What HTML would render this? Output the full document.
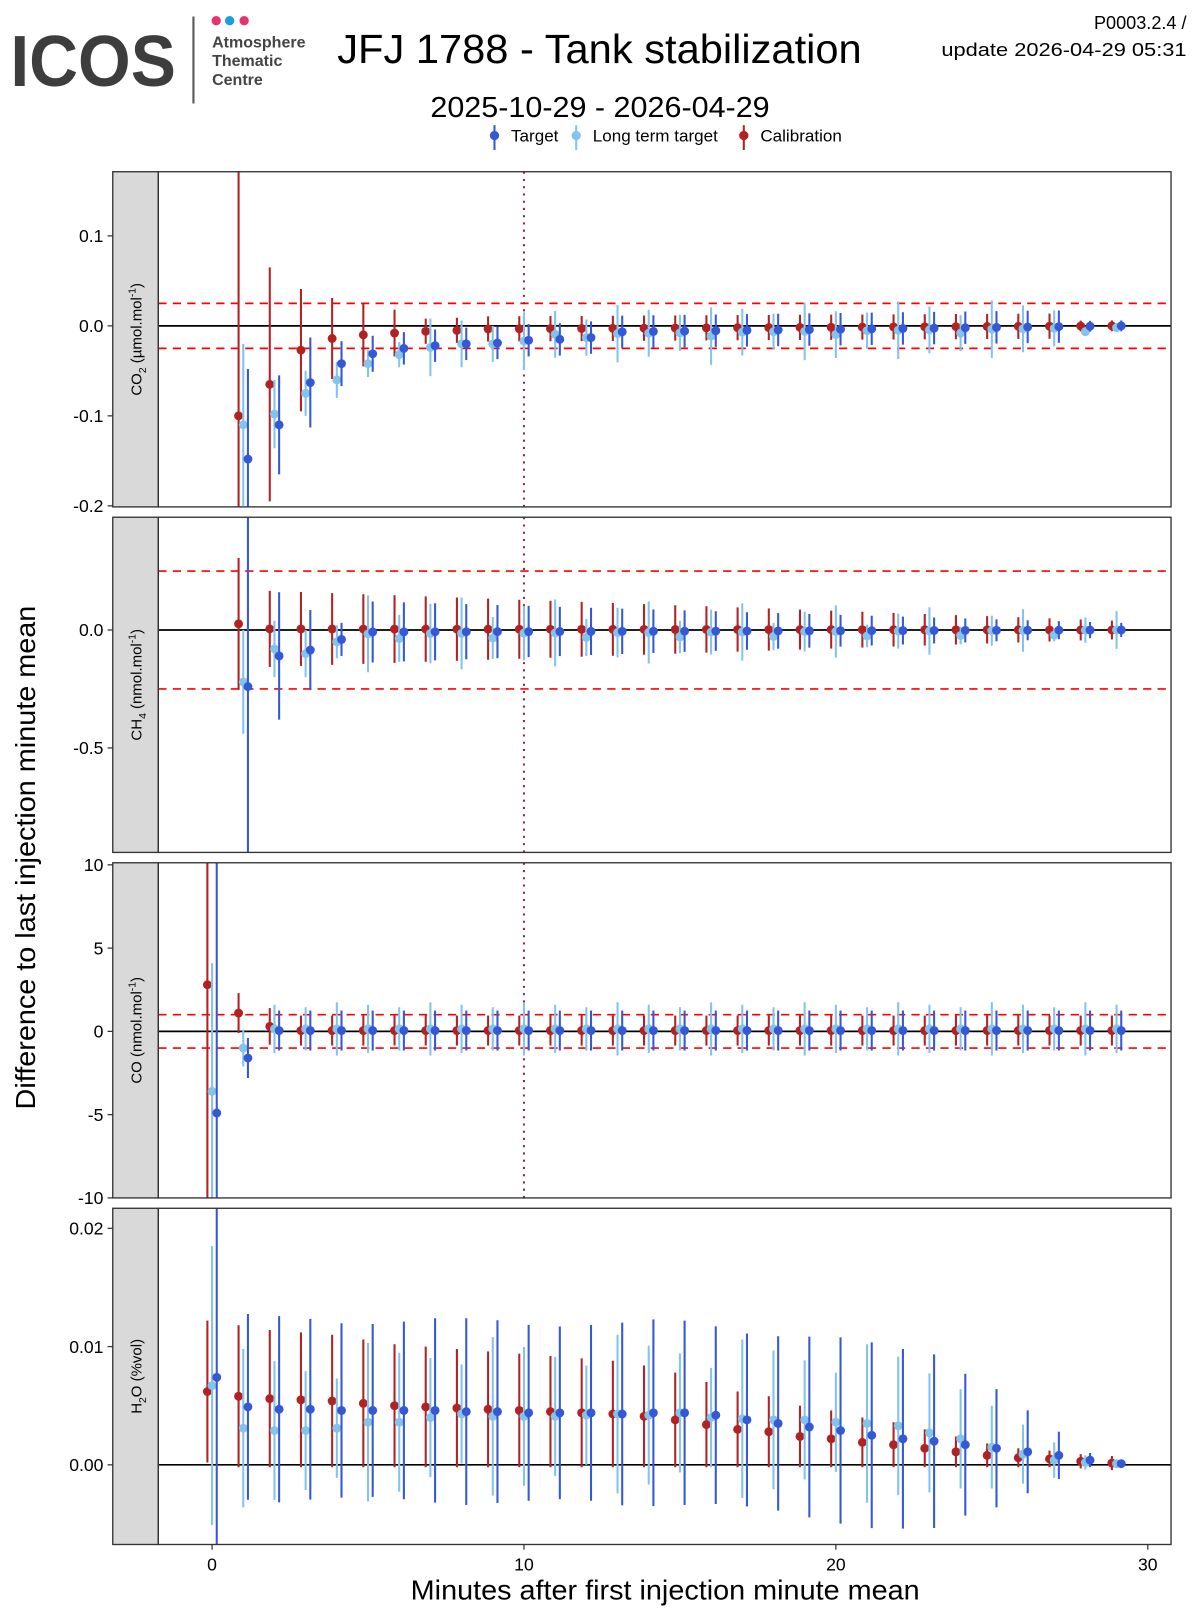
<!DOCTYPE html>
<html><head><meta charset="utf-8"><style>
html,body{margin:0;padding:0;background:#fff}
svg{display:block}
text{font-family:"Liberation Sans",sans-serif}
</style></head><body>
<svg id="s" width="1200" height="1620" viewBox="0 0 1160 1566" preserveAspectRatio="none" xmlns="http://www.w3.org/2000/svg">
<rect width="1160" height="1566" fill="#fff"/>
<text x="10" y="83" font-size="70" font-weight="bold" fill="#3d3d3d" textLength="160" lengthAdjust="spacingAndGlyphs">ICOS</text>
<line x1="187" y1="16" x2="187" y2="100" stroke="#555" stroke-width="2"/>
<circle cx="209" cy="20" r="4.5" fill="#e6336e"/>
<circle cx="222" cy="20" r="4.5" fill="#1a9ee2"/>
<circle cx="236" cy="20" r="4.5" fill="#e6336e"/>
<text x="205" y="46" font-size="15.5" font-weight="bold" fill="#444">Atmosphere</text>
<text x="205" y="64" font-size="15.5" font-weight="bold" fill="#444">Thematic</text>
<text x="205" y="82" font-size="15.5" font-weight="bold" fill="#444">Centre</text>
<text x="326" y="61" font-size="39" fill="#000" textLength="507" lengthAdjust="spacingAndGlyphs">JFJ 1788 - Tank stabilization</text>
<text x="1147" y="28" font-size="17.5" text-anchor="end">P0003.2.4 /</text>
<text x="1147" y="54" font-size="17.5" text-anchor="end" textLength="237" lengthAdjust="spacingAndGlyphs">update  2026-04-29 05:31</text>
<text x="580" y="113" font-size="28" text-anchor="middle" textLength="328" lengthAdjust="spacingAndGlyphs">2025-10-29 - 2026-04-29</text>
<g id="legend"></g>
<g id="plot"></g>
<text x="643" y="1546" font-size="27" text-anchor="middle" textLength="492" lengthAdjust="spacingAndGlyphs">Minutes after first injection minute mean</text>
<text transform="translate(34,829) rotate(-90)" font-size="27" text-anchor="middle" textLength="487" lengthAdjust="spacingAndGlyphs">Difference to last injection minute mean</text>
</svg>
<script>
const NS="http://www.w3.org/2000/svg";
const P=document.getElementById('plot'), L=document.getElementById('legend');
function el(par,tag,a,txt){const e=document.createElementNS(NS,tag);for(const k in a)e.setAttribute(k,a[k]);if(txt!=null)e.textContent=txt;par.appendChild(e);return e;}
const CT="#3558d4", CL="#82c4ec", CC="#b22222";
[[478,CT,"Target"],[557,CL,"Long term target"],[719,CC,"Calibration"]].forEach(([x,c,t])=>{
 el(L,'line',{x1:x,y1:121,x2:x,y2:145,stroke:c,'stroke-width':2});
 el(L,'circle',{cx:x,cy:131,r:4.5,fill:c});
 el(L,'text',{x:x+16,y:137,'font-size':16.5},t);
});
const X0=205, XS=30.15;
const X1=153, X2=1132;
function xs(v){return X0+v*XS;}
const panels=[
 {top:166,bot:490,y0:315,sc:870,ticks:[[0.1,"0.1"],[0,"0.0"],[-0.1,"-0.1"],[-0.2,"-0.2"]],dash:0.025,lab:["CO",'2'," (µmol.mol",'-1',")"],start:1},
 {top:500,bot:824,y0:609,sc:228,ticks:[[0,"0.0"],[-0.5,"-0.5"]],dash:0.25,lab:["CH",'4'," (nmol.mol",'-1',")"],start:1},
 {top:834,bot:1158,y0:997,sc:16.1,ticks:[[10,"10"],[5,"5"],[0,"0"],[-5,"-5"],[-10,"-10"]],dash:1,lab:["CO (nmol.mol",null,"",'-1',")"],start:0},
 {top:1168,bot:1493,y0:1416,sc:11430,ticks:[[0.02,"0.02"],[0.01,"0.01"],[0,"0.00"]],dash:null,lab:["H",'2',"O (%vol)",null,""],start:0}
];
const N=30;
function series(p){
 const d={c:[],l:[],t:[]};
 for(let i=0;i<N;i++){
  let c,ce,l,le,t,te;
  const f=1-i/29;
  if(p===0){
   c=[0,-0.1,-0.065,-0.027,-0.014,-0.01,-0.008,-0.006,-0.005][i]??-0.005*f;
   ce=[0,0.4,0.13,0.068,0.045,0.035,0.026][i]??(i>=28?0.006:0.014);
   l=[0,-0.11,-0.098,-0.075,-0.06,-0.042,-0.032,-0.024,-0.02,-0.02,-0.017][i]??(-0.012*f-0.002+(i%4===0?-0.004:0));
   le=[0,0.09,0.038,0.025,0.02,0.015,0.014][i]??(i>=28?0.005:0.02+0.012*((i*5)%3)/2);
   t=[0,-0.148,-0.11,-0.063,-0.042,-0.031,-0.025,-0.022,-0.02,-0.019,-0.016,-0.015,-0.013][i]??(-0.012*f);
   te=[0,0.1,0.055,0.05,0.025,0.02,0.018][i]??(i>=28?0.006:0.018);
  } else if(p===1){
   c=i===1?0.026:0.005*f; ce=i===1?0.28:(0.13*f+0.04);
   l=[0,-0.22,-0.08,-0.1,-0.05][i]??(-0.02*f+(i%3===0?-0.02:0)); le=[0,0.22,0.12,0.1,0.07][i]??(0.1*f+0.06*((i*7)%3)/2+0.02);
   t=[0,-0.24,-0.11,-0.085,-0.04][i]??(-0.01*f); te=[0,1,0.27,0.17,0.07][i]??(0.12*f+0.03);
  } else if(p===2){
   c=[2.8,1.1,0.3][i]??0.05; ce=[20,1.2,1.1][i]??0.9;
   l=[-3.6,-1.0][i]??0.15; le=[7.7,1.1][i]??(1.3+0.3*((i*5)%3)/2);
   t=[-4.9,-1.6][i]??0.05; te=[20,1.2][i]??(1.2);
  } else {
   const cm=[6.2,5.8,5.6,5.5,5.4,5.2,5.0,4.9,4.8,4.7,4.6,4.5,4.4,4.3,4.1,3.8,3.4,3.0,2.8,2.4,2.2,1.9,1.7,1.4,1.1,0.8,0.6,0.5,0.3,0.15];
   const tm=[7.4,4.9,4.7,4.7,4.6,4.6,4.6,4.6,4.5,4.5,4.4,4.4,4.4,4.3,4.4,4.4,4.2,3.8,3.5,3.2,2.9,2.5,2.2,2.0,1.7,1.4,1.1,0.8,0.4,0.1];
   const lm=[6.7,3.1,2.9,2.9,3.1,3.6,3.6,4.0,4.3,4.1,4.1,4.1,4.2,4.3,4.2,4.4,4.0,3.9,3.8,3.8,3.6,3.5,3.3,2.7,2.2,1.5,0.9,0.4,0.2,0.1];
   c=cm[i]/1000; ce=(i===0?6:Math.max(cm[i]*1.0,0.4)+0.2)/1000;
   t=tm[i]/1000; te=(i===0?15:(i>=24?[6,5,3.5,2,0.6,0.2][i-24]:7.6+0.3*Math.sin(i)))/1000;
   l=lm[i]/1000; le=(i===0?11.8:(i>=25?[3.5,2.5,1.5,0.6,0.2][i-25]:4.2+2.5*((i*3)%4)/3))/1000;
  }
  if(i>=panels[p].start){d.c.push([i-0.15,c,ce]);d.l.push([i,l,le]);d.t.push([i+0.15,t,te]);}
 }
 return d;
}
panels.forEach((pn,pi)=>{
 const y=v=>pn.y0-v*pn.sc;
 const cid='c'+pi;
 const cp=el(P,'clipPath',{id:cid});
 el(cp,'rect',{x:X1,y:pn.top,width:X2-X1,height:pn.bot-pn.top});
 el(P,'rect',{x:X1,y:pn.top,width:X2-X1,height:pn.bot-pn.top,fill:'#fff'});
 el(P,'rect',{x:109,y:pn.top,width:44,height:pn.bot-pn.top,fill:'#d9d9d9',stroke:'#333','stroke-width':1.3});
 const cy=(pn.top+pn.bot)/2;
 const t=el(P,'text',{transform:`translate(137,${cy}) rotate(-90)`,'font-size':14.5,'text-anchor':'middle'});
 const lb=pn.lab;
 el(t,'tspan',{},lb[0]);
 if(lb[1])el(t,'tspan',{'font-size':10,dy:4},lb[1]);
 if(lb[2])el(t,'tspan',{dy:lb[1]?-4:0},lb[2]);
 if(lb[3])el(t,'tspan',{'font-size':10,dy:-6},lb[3]);
 if(lb[4]!=null&&lb[3])el(t,'tspan',{dy:6},lb[4]);
 const g=el(P,'g',{'clip-path':`url(#${cid})`});
 if(pn.dash!=null){
  [pn.dash,-pn.dash].forEach(v=>el(g,'line',{x1:X1,x2:X2,y1:y(v),y2:y(v),stroke:'#ff0000','stroke-width':1.6,'stroke-dasharray':'8,6'}));
 }
 el(g,'line',{x1:X1,x2:X2,y1:y(0),y2:y(0),stroke:'#000','stroke-width':1.6});
 if(pi<3) el(g,'line',{x1:xs(10),x2:xs(10),y1:pn.top,y2:pn.bot,stroke:'#8b2a4a','stroke-width':2,'stroke-dasharray':'2,5'});
 const d=series(pi);
 [[d.c,CC],[d.l,CL],[d.t,CT]].forEach(([arr,col])=>{
  arr.forEach(([xv,m,e])=>{
   el(g,'line',{x1:xs(xv),x2:xs(xv),y1:y(m+e),y2:y(m-e),stroke:col,'stroke-width':2});
   el(g,'circle',{cx:xs(xv),cy:y(m),r:4.3,fill:col});
  });
 });
 el(P,'rect',{x:X1,y:pn.top,width:X2-X1,height:pn.bot-pn.top,fill:'none',stroke:'#333','stroke-width':1.3});
 pn.ticks.forEach(([v,s])=>{
  el(P,'line',{x1:104,x2:109,y1:y(v),y2:y(v),stroke:'#333','stroke-width':1.2});
  el(P,'text',{x:100,y:y(v)+6,'font-size':17,'text-anchor':'end'},s);
 });
});
[0,10,20,30].forEach(v=>{
 el(P,'line',{x1:xs(v),x2:xs(v),y1:1493,y2:1498,stroke:'#333','stroke-width':1.2});
 el(P,'text',{x:xs(v),y:1518,'font-size':17,'text-anchor':'middle'},String(v));
});
</script>
</body></html>
